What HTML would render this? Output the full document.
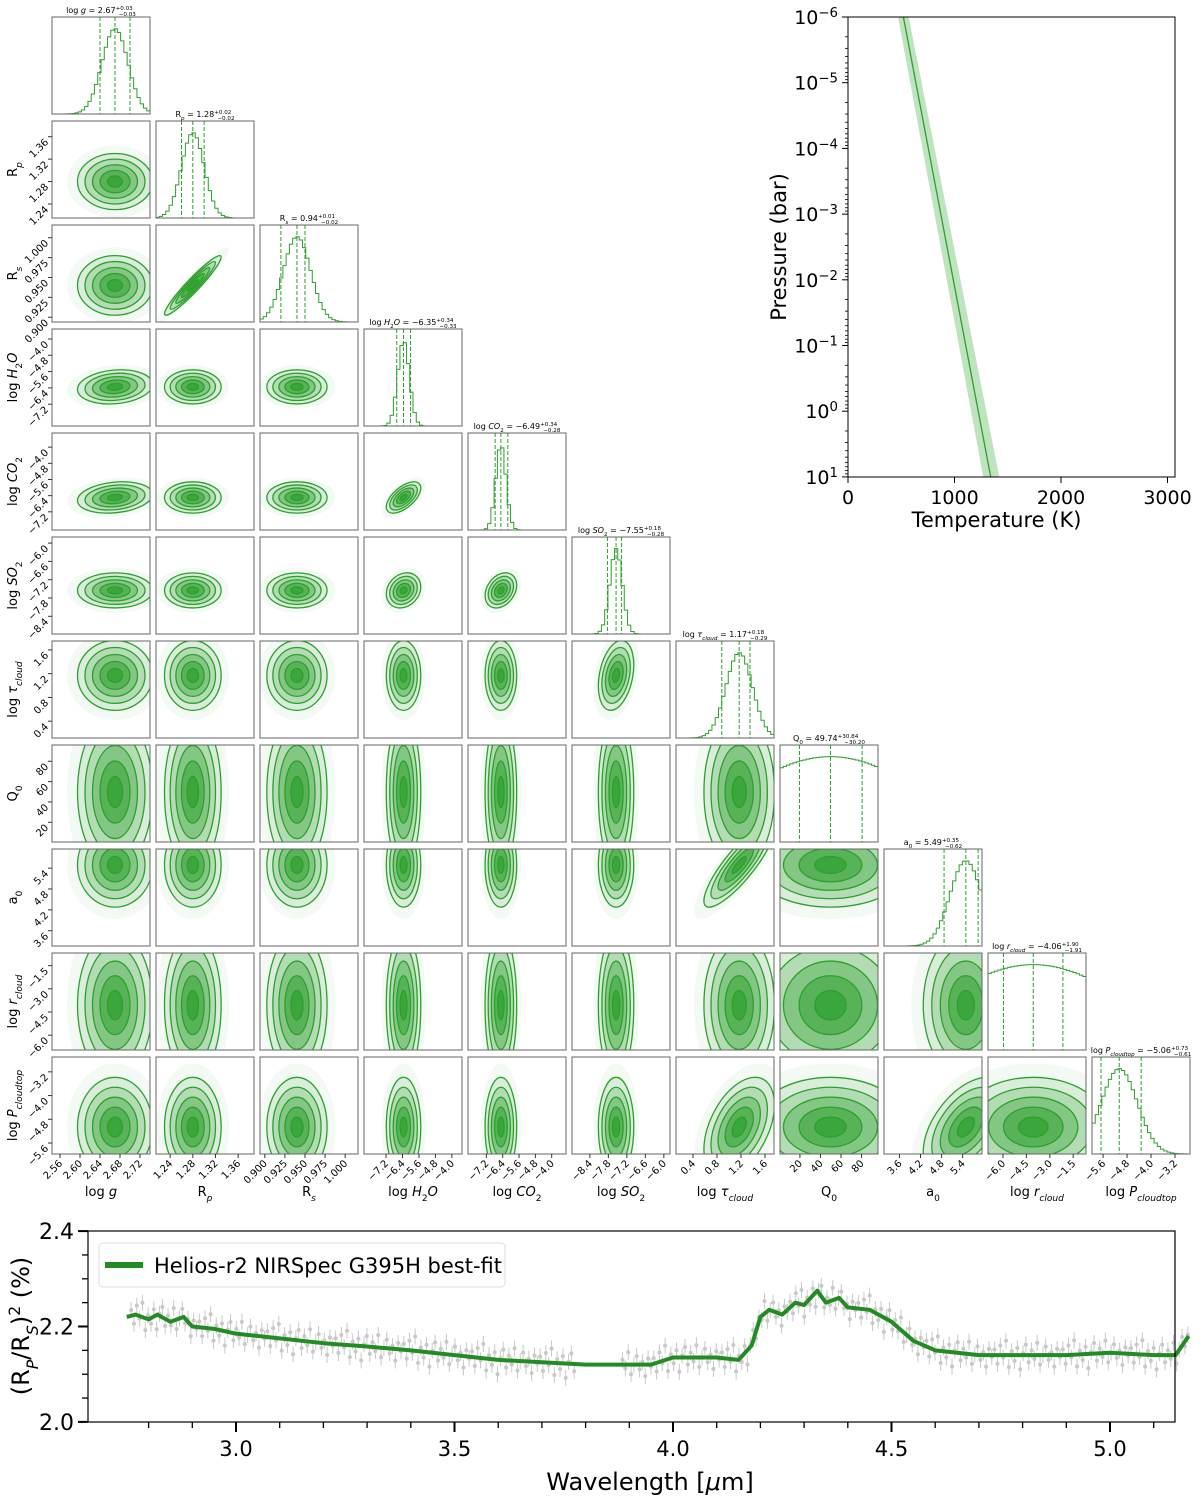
<!DOCTYPE html>
<html><head><meta charset="utf-8"><style>
html,body{margin:0;padding:0;background:#fff;}
svg{display:block;font-family:"DejaVu Sans","Liberation Sans",sans-serif;}
</style></head><body>
<svg id="chart" width="1200" height="1500" viewBox="0 0 1200 1500" xmlns="http://www.w3.org/2000/svg"></svg>
<script>
// ---- corner plot data ----
const paramLabels=['log <tspan font-style="italic">g</tspan>','R<tspan baseline-shift="sub" font-size="70%" font-style="italic">p</tspan>','R<tspan baseline-shift="sub" font-size="70%" font-style="italic">s</tspan>','log <tspan font-style="italic">H</tspan><tspan baseline-shift="sub" font-size="70%">2</tspan><tspan font-style="italic">O</tspan>','log <tspan font-style="italic">CO</tspan><tspan baseline-shift="sub" font-size="70%">2</tspan>','log <tspan font-style="italic">SO</tspan><tspan baseline-shift="sub" font-size="70%">2</tspan>','log <tspan font-style="italic">τ</tspan><tspan baseline-shift="sub" font-size="70%" font-style="italic">cloud</tspan>','Q<tspan baseline-shift="sub" font-size="70%">0</tspan>','a<tspan baseline-shift="sub" font-size="70%">0</tspan>','log <tspan font-style="italic">r</tspan><tspan baseline-shift="sub" font-size="70%" font-style="italic">cloud</tspan>','log <tspan font-style="italic">P</tspan><tspan baseline-shift="sub" font-size="70%" font-style="italic">cloudtop</tspan>'];
const paramMeans=[2.67,1.28,0.94,-6.35,-6.49,-7.55,1.17,49.74,5.49,-4.06,-5.06];
const paramLo=[0.03,0.02,0.02,0.33,0.28,0.28,0.29,30.20,0.62,1.91,0.61];
const paramHi=[0.03,0.02,0.01,0.34,0.34,0.18,0.18,30.84,0.35,1.90,0.73];
const paramMin=[2.544,1.215,0.894,-8.27,-8.1,-8.98,0.117,0.6,3.16,-6.96,-5.97];
const paramMax=[2.74,1.388,1.016,-3.51,-3.3,-5.8,1.75,96,5.95,-0.68,-2.7];
const paramTicks=[[2.56,2.60,2.64,2.68,2.72],[1.24,1.28,1.32,1.36],[0.900,0.925,0.950,0.975,1.000],[-7.2,-6.4,-5.6,-4.8,-4.0],[-7.2,-6.4,-5.6,-4.8,-4.0],[-8.4,-7.8,-7.2,-6.6,-6.0],[0.4,0.8,1.2,1.6],[20,40,60,80],[3.6,4.2,4.8,5.4],[-6.0,-4.5,-3.0,-1.5],[-5.6,-4.8,-4.0,-3.2]];
const tickDigits=[2,2,3,1,1,1,1,0,1,1,1];
const pairCorr=[[1,2,0.95],[3,4,0.6],[0,3,0.15],[0,4,0.2],[6,8,0.85],[6,10,0.45],[8,10,0.5],[5,6,0.3],[4,5,0.3],[3,5,0.2]];
const histSd=[0.026,0.02,0.017,0.28,0.25,0.2,0.22,90,0.45,6,0.6];

// ---- T-P profile data ----
const tpLogP=[-6,1];
const tpTemp=[520,1340];
const tpLow=[470,1270];
const tpHigh=[570,1420];

// ---- spectrum data ----
const specWave=[2.75,2.77,2.8,2.82,2.85,2.88,2.9,2.95,3.0,3.05,3.1,3.2,3.3,3.4,3.5,3.6,3.7,3.8,3.9,3.95,4.0,4.1,4.15,4.18,4.2,4.22,4.25,4.28,4.3,4.33,4.35,4.38,4.4,4.45,4.5,4.55,4.6,4.7,4.8,4.9,5.0,5.1,5.15,5.18];
const specModel=[2.22,2.225,2.215,2.225,2.21,2.22,2.2,2.195,2.185,2.18,2.175,2.165,2.158,2.15,2.14,2.13,2.125,2.12,2.12,2.12,2.135,2.135,2.13,2.16,2.22,2.235,2.225,2.25,2.245,2.275,2.25,2.26,2.24,2.235,2.21,2.17,2.15,2.14,2.14,2.14,2.145,2.14,2.14,2.18];
const obsResid=[0.012,-0.018,0.02,-0.005,0.03,-0.025,0.008,-0.012,0.015,-0.03,0.004,0.022,-0.015,0.01,-0.008,0.026,-0.02,0.0,0.018,-0.01,0.006,-0.024,0.013,-0.004];

const NS='http://www.w3.org/2000/svg';
const svg=document.getElementById('chart');
function mk(tag,attrs,parent){const e=document.createElementNS(NS,tag);for(const k in attrs)e.setAttribute(k,attrs[k]);(parent||svg).appendChild(e);return e;}
const G='#2ca02c';
const N=11, X0=52, Y0=17, STEP=104, PW=98, PH=97;
const defs=mk('defs',{});
function px(i,v){return X0+i*STEP+(v-paramMin[i])/(paramMax[i]-paramMin[i])*PW;}
function py(j,v){return Y0+j*STEP+PH-(v-paramMin[j])/(paramMax[j]-paramMin[j])*PH;}
function corrOf(a,b){for(const c of pairCorr){if((c[0]===a&&c[1]===b)||(c[0]===b&&c[1]===a))return c[2];}return 0;}
function sdOf(i){return (paramLo[i]+paramHi[i])/2;}
function fmt(v,d){return (v<0?'−':'')+Math.abs(v).toFixed(d);}

for(let j=0;j<N;j++){
  for(let i=0;i<=j;i++){
    const x=X0+i*STEP,y=Y0+j*STEP;
    const g=mk('g',{});
    
    
    const cid='cp'+i+'_'+j;
    const cp=mk('clipPath',{id:cid},defs);
    mk('rect',{x:x,y:y,width:PW,height:PH},cp);
    const inner=mk('g',{'clip-path':'url(#'+cid+')'},g);
    if(i===j){
      const sd=histSd[i], m=paramMeans[i];
      const nb=30; let d='';
      const bw=(paramMax[i]-paramMin[i])/nb;
      for(let b=0;b<nb;b++){
        const c=paramMin[i]+(b+0.5)*bw;
        const h=Math.exp(-0.5*Math.pow((c-m)/sd,2));
        const yy=y+PH-h*PH*0.88;
        const xa=px(i,paramMin[i]+b*bw), xb=px(i,paramMin[i]+(b+1)*bw);
        d+=(b===0?'M'+xa+','+(y+PH)+' L'+xa+','+yy:' L'+xa+','+yy)+' L'+xb+','+yy;
      }
      const hp=mk('path',{d:d,fill:'none',stroke:G,'stroke-width':1},inner);
      
      
      [m-paramLo[i],m,m+paramHi[i]].forEach(v=>{
        const l=mk('line',{x1:px(i,v),x2:px(i,v),y1:y,y2:y+PH,stroke:G,'stroke-width':1,'stroke-dasharray':'4,2'},inner);
        
        
      });
      const t=mk('text',{x:x+PW/2,y:y-4,'font-size':8,'text-anchor':'middle',fill:'#000'});
      t.innerHTML=paramLabels[i]+' = '+fmt(m,2)+'<tspan baseline-shift="super" font-size="70%">+'+paramHi[i].toFixed(2)+'</tspan><tspan font-size="70%" dx="-14" baseline-shift="sub">−'+paramLo[i].toFixed(2)+'</tspan>';
      
      
    } else {
      const mx=paramMeans[i], my=paramMeans[j];
      const sx=sdOf(i), sy=sdOf(j), r=corrOf(i,j);
      const cx=px(i,mx), cy=py(j,my);
      const sxp=sx/(paramMax[i]-paramMin[i])*PW, syp=sy/(paramMax[j]-paramMin[j])*PH;
      const a=sxp*sxp,dd=syp*syp,bb=-r*sxp*syp;
      const tr=(a+dd)/2, det=Math.sqrt(Math.pow((a-dd)/2,2)+bb*bb);
      const l1=tr+det,l2=Math.max(tr-det,0.5);
      const ang=Math.atan2(l1-a,bb)*180/Math.PI;
      const angle=(bb===0)?(a>=dd?0:90):ang;
      const levels=[3.2,2.5,2.0,1.5,1.0,0.5];
      const fills=[0.06,0.12,0.22,0.35,0.5,0.65];
      levels.forEach((k,n)=>{
        const e=mk('ellipse',{cx:cx,cy:cy,rx:k*Math.sqrt(l1),ry:k*Math.sqrt(l2),transform:'rotate('+angle+' '+cx+' '+cy+')',fill:G,'fill-opacity':fills[n],stroke:n>0?G:'none','stroke-width':1.3},inner);
        
        
      });
    }
    const fr=mk('rect',{x:x,y:y,width:PW,height:PH,fill:'none',stroke:'#666','stroke-width':1},g);
    
    
  }
}
for(let i=0;i<N;i++){
  const yb=Y0+10*STEP+PH;
  paramTicks[i].forEach(v=>{
    const xx=px(i,v);
    mk('line',{x1:xx,x2:xx,y1:yb,y2:yb+4,stroke:'#333','stroke-width':1});
    const t=mk('text',{x:xx+3,y:yb+10,'font-size':10,'text-anchor':'end',transform:'rotate(-45 '+(xx+3)+' '+(yb+10)+')'});
    t.textContent=fmt(v,tickDigits[i]);
    
    
  });
  const lab=mk('text',{x:X0+i*STEP+PW/2,y:1196,'font-size':13,'text-anchor':'middle'});
  lab.innerHTML=paramLabels[i];
  
  
  if(i>0){
    paramTicks[i].forEach(v=>{
      const yy=py(i,v);
      mk('line',{x1:X0-4,x2:X0,y1:yy,y2:yy,stroke:'#333','stroke-width':1});
      const t=mk('text',{x:X0-3,y:yy+6,'font-size':10,'text-anchor':'end',transform:'rotate(-45 '+(X0-3)+' '+(yy+6)+')'});
      t.textContent=fmt(v,tickDigits[i]);
      
      
    });
    const cy=Y0+i*STEP+PH/2;
    const yl=mk('text',{x:17,y:cy,'font-size':13,'text-anchor':'middle',transform:'rotate(-90 17 '+cy+')'});
    yl.innerHTML=paramLabels[i];
    
    
  }
}

// ---- T-P panel ----
const TL=848,TR=1175,TT=17,TB=477;
function tx(T){return TL+T*0.1065;}
function ty(lp){return TT+(lp+6)*65.7;}
const tpg=mk('g',{});


const band=mk('polygon',{points:[tx(tpLow[0])+','+ty(tpLogP[0]),tx(tpHigh[0])+','+ty(tpLogP[0]),tx(tpHigh[1])+','+ty(tpLogP[1]),tx(tpLow[1])+','+ty(tpLogP[1])].join(' '),fill:G,'fill-opacity':0.3},tpg);


const tpl=mk('line',{x1:tx(tpTemp[0]),y1:ty(tpLogP[0]),x2:tx(tpTemp[1]),y2:ty(tpLogP[1]),stroke:G,'stroke-width':1.3},tpg);


mk('rect',{x:TL,y:TT,width:TR-TL,height:TB-TT,fill:'#fff','fill-opacity':0,stroke:'#000','stroke-width':1},tpg);
[0,1000,2000,3000].forEach(T=>{
  const xx=tx(T);
  mk('line',{x1:xx,x2:xx,y1:TB,y2:TB+6,stroke:'#000'});
  const t=mk('text',{x:xx,y:TB+27,'font-size':19,'text-anchor':'middle'});
  t.textContent=T;
  
  
});
for(let e=-6;e<=1;e++){
  const yy=ty(e);
  mk('line',{x1:TL-6,x2:TL,y1:yy,y2:yy,stroke:'#000'});
  const t=mk('text',{x:TL-10,y:yy+7,'font-size':19,'text-anchor':'end'});
  t.innerHTML='10<tspan baseline-shift="super" font-size="70%">'+(e<0?'−':'')+Math.abs(e)+'</tspan>';
  
  
  if(e<1){for(let k=2;k<=9;k++){const ym=ty(e+Math.log10(k));mk('line',{x1:TL-3,x2:TL,y1:ym,y2:ym,stroke:'#000','stroke-width':0.8});}}
}
const tpx=mk('text',{x:(TL+TR)/2-15,y:527,'font-size':21,'text-anchor':'middle'});
tpx.textContent='Temperature (K)';


const tpy=mk('text',{x:786,y:247,'font-size':21,'text-anchor':'middle',transform:'rotate(-90 786 247)'});
tpy.textContent='Pressure (bar)';



// ---- spectrum ----
const SL=88,SR=1175,ST=1231,SB=1422;
function sx(w){return 236+(w-3)*437;}
function sy(v){return 1326.5-(v-2.2)*477;}
function interp(w){for(let k=0;k<specWave.length-1;k++){if(w>=specWave[k]&&w<=specWave[k+1]){const f=(w-specWave[k])/(specWave[k+1]-specWave[k]);return specModel[k]+f*(specModel[k+1]-specModel[k]);}}return specModel[specModel.length-1];}
const sg=mk('g',{});


let n=0;
for(let w=2.76;w<=5.18;w+=0.0065){
  if(w>3.78&&w<3.88){continue;}
  const v=interp(w)+obsResid[n%obsResid.length]; n++;
  const xx=sx(w), yy=sy(v);
  mk('line',{x1:xx,x2:xx,y1:yy-8,y2:yy+8,stroke:'#c8c8c8','stroke-width':1},sg);
  const c=mk('circle',{cx:xx,cy:yy,r:2,fill:'#c8c8c8'},sg);
  
  
}
let sd='';
specWave.forEach((w,k)=>{sd+=(k?' L':'M')+sx(w)+','+sy(specModel[k]);});
const mp=mk('path',{d:sd,fill:'none',stroke:'#228b22','stroke-width':4,'stroke-linejoin':'round'},sg);


const sf=mk('rect',{x:SL,y:ST,width:SR-SL,height:SB-ST,fill:'none',stroke:'#000','stroke-width':1.2});


for(let k=0;k<=25;k++){
  const w=2.8+k*0.1; const xx=sx(w); if(xx>SR)break;
  const major=Math.abs(w*2-Math.round(w*2))<1e-6;
  mk('line',{x1:xx,x2:xx,y1:SB,y2:SB+(major?10:6),stroke:'#000','stroke-width':major?2:1.3});
  if(major){const t=mk('text',{x:xx,y:SB+34,'font-size':21,'text-anchor':'middle'});t.textContent=w.toFixed(1);
    
    }
}
for(let k=0;k<=8;k++){
  const v=2.0+k*0.05; const yy=sy(v); const major=k%4===0;
  mk('line',{x1:SL-(major?10:6),x2:SL,y1:yy,y2:yy,stroke:'#000','stroke-width':major?2:1.3});
  if(major){const t=mk('text',{x:SL-14,y:yy+8,'font-size':22,'text-anchor':'end'});t.textContent=v.toFixed(1);
    
    }
}
const sxl=mk('text',{x:650,y:1490,'font-size':24,'text-anchor':'middle'});
sxl.innerHTML='Wavelength [<tspan font-style="italic">μ</tspan>m]';


const syl=mk('text',{x:29,y:1326,'font-size':24,'text-anchor':'middle',transform:'rotate(-90 29 1326)'});
syl.innerHTML='(R<tspan baseline-shift="sub" font-size="65%" font-style="italic">P</tspan>/R<tspan baseline-shift="sub" font-size="65%" font-style="italic">S</tspan>)<tspan baseline-shift="super" font-size="65%">2</tspan> (%)';


const lg=mk('g',{});


mk('rect',{x:99,y:1243,width:406,height:44,rx:4,fill:'#fff','fill-opacity':0.85,stroke:'#ddd'},lg);
mk('line',{x1:105,x2:143,y1:1265,y2:1265,stroke:'#228b22','stroke-width':6},lg);
const lt=mk('text',{x:154,y:1273,'font-size':21},lg);
lt.textContent='Helios-r2 NIRSpec G395H best-fit';


</script>
</body></html>
